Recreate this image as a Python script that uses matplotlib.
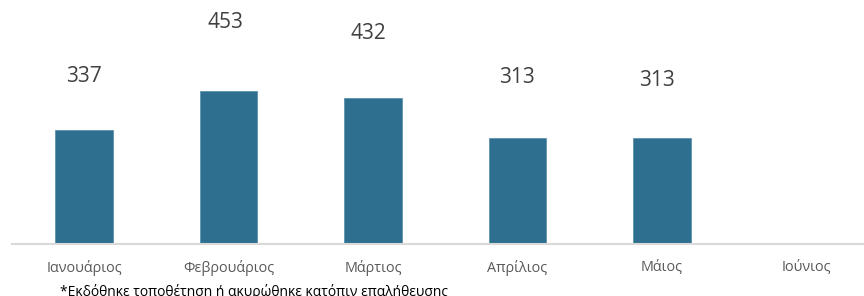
import matplotlib
matplotlib.use("Agg")
import matplotlib.pyplot as plt

plt.rcParams['font.family'] = ['Open Sans', 'DejaVu Sans']

# data
months = ["Ιανουάριος", "Φεβρουάριος", "Μάρτιος", "Απρίλιος", "Μάιος", "Ιούνιος"]
counts = [337, 453, 432, 313, 313, None]
footnote = "*Εκδόθηκε τοποθέτηση ή ακυρώθηκε κατόπιν επαλήθευσης"

# label offsets from bar top (pixels), as placed in the original
label_dx = [0, -3, -5, 0, -5]
label_dy = [53, 68, 64, 61, 58]

bar_color = '#2E6F90'
W, H, DPI = 864, 296, 100
fig = plt.figure(figsize=(W / DPI, H / DPI), dpi=DPI)
base_px = 244.3
ax = fig.add_axes([12 / W, (H - base_px) / H, 852 / W, base_px / H])

xs = list(range(len(months)))
vals = [v if v is not None else 0 for v in counts]
bars = ax.bar(xs, vals, width=0.4, color=bar_color, edgecolor='#5f93ad', linewidth=0.6, zorder=2)

px2pt = 72 / DPI
for i, v in enumerate(counts):
    if v is None:
        continue
    ax.annotate(str(v), xy=(xs[i], v), xytext=(label_dx[i] * px2pt, label_dy[i] * px2pt),
                textcoords='offset points', ha='center', va='center',
                fontsize=15, color='#404040')

ax.set_xlim(-0.5, 5.4)
ax.set_ylim(0, 720)
ax.set_xticks(xs)
ax.set_xticklabels(months, fontsize=10.4, color='#595959')
ax.tick_params(axis='x', length=0, pad=11.5)
ax.set_yticks([])
for s in ['top', 'right', 'left']:
    ax.spines[s].set_visible(False)
ax.spines['bottom'].set_color('#d9d9d9')
ax.spines['bottom'].set_linewidth(1.5)
ax.patch.set_alpha(0)

# footnote sits at the very bottom edge, slightly clipped as in the original
fig.text(60 / W, 1 - 292 / H, footnote, ha='left', va='center', fontsize=10, color='#000000')

fig.savefig('out.png', dpi=DPI)
